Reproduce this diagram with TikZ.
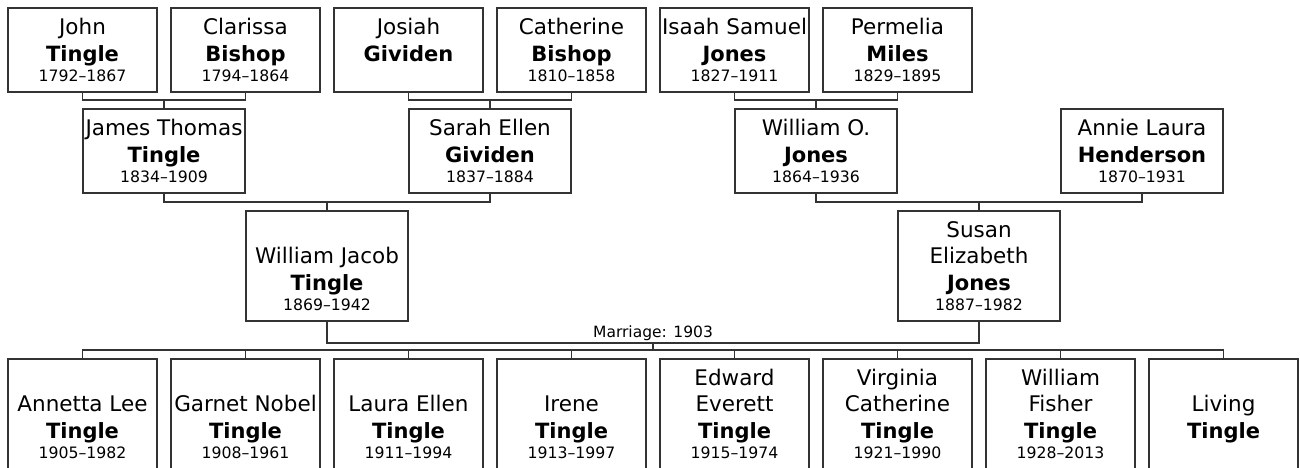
\documentclass[tikz,border=0pt]{standalone}
\usepackage{fontspec}
\setmainfont{DejaVu Sans}
\usetikzlibrary{calc}
\tikzset{
  pbox/.style={draw=black!80, line width=1.7pt, fill=white, rectangle, inner sep=0pt, outer sep=0pt},
  gname/.style={anchor=base, inner sep=0pt, font=\fontsize{21.5}{25}\selectfont},
  sname/.style={anchor=base, inner sep=0pt, font=\fontsize{21}{25}\selectfont\bfseries},
  years/.style={anchor=base, inner sep=0pt, font=\fontsize{15.7}{18}\selectfont},
  marr/.style={anchor=base, inner sep=0pt, font=\fontsize{15.5}{18}\selectfont},
  link/.style={draw=black!80, line width=1.7pt},
}
% #1 id, #2 x, #3 y centre, #4 height, #5 width, #6 upper given line, #7 given line, #8 surname, #9 years
\newcommand\fperson[9]{%
  \node[pbox, minimum width=#5pt, minimum height=#4pt] (#1) at (#2,#3) {};
  \node[gname] (#1-g) at ($(#1.south)+(0,-57.5)$) {#7};
  \def\tmpa{#6}\ifx\tmpa\empty\else\node[gname] (#1-g0) at ($(#1.south)+(0,-83.7)$) {#6};\fi
  \node[sname] (#1-s) at ($(#1.south)+(0,-31)$) {#8};
  \def\tmpb{#9}\ifx\tmpb\empty\else\node[years] (#1-y) at ($(#1.south)+(0,-11)$) {#9};\fi
}
\begin{document}
\begin{tikzpicture}[x=1pt, y=-1pt]
\path[use as bounding box, fill=white] (0,0) rectangle (1300,468);
% generation 1
\fperson{john}{82.5}{50}{84.5}{149.5}{}{John}{Tingle}{1792–1867}
\fperson{clarissa}{245.5}{50}{84.5}{149.5}{}{Clarissa}{Bishop}{1794–1864}
\fperson{josiah}{408.5}{50}{84.5}{149.5}{}{Josiah}{Gividen}{}
\fperson{catherine}{571.5}{50}{84.5}{149.5}{}{Catherine}{Bishop}{1810–1858}
\fperson{isaah}{734.5}{50}{84.5}{149.5}{}{Isaah Samuel}{Jones}{1827–1911}
\fperson{permelia}{897.5}{50}{84.5}{149.5}{}{Permelia}{Miles}{1829–1895}
% generation 2
\fperson{james}{164}{151}{84.5}{161.5}{}{James Thomas}{Tingle}{1834–1909}
\fperson{sarah}{490}{151}{84.5}{161.5}{}{Sarah Ellen}{Gividen}{1837–1884}
\fperson{wo}{816}{151}{84.5}{161.5}{}{William O.}{Jones}{1864–1936}
\fperson{annie}{1142}{151}{84.5}{161.5}{}{Annie Laura}{Henderson}{1870–1931}
% generation 3
\fperson{wjt}{327}{266}{110.5}{161.5}{}{William Jacob}{Tingle}{1869–1942}
\fperson{susan}{979}{266}{110.5}{161.5}{Susan}{Elizabeth}{Jones}{1887–1982}
% children
\fperson{c1}{82.5}{414}{110.5}{149.5}{}{Annetta Lee}{Tingle}{1905–1982}
\fperson{c2}{245.5}{414}{110.5}{149.5}{}{Garnet Nobel}{Tingle}{1908–1961}
\fperson{c3}{408.5}{414}{110.5}{149.5}{}{Laura Ellen}{Tingle}{1911–1994}
\fperson{c4}{571.5}{414}{110.5}{149.5}{}{Irene}{Tingle}{1913–1997}
\fperson{c5}{734.5}{414}{110.5}{149.5}{Edward}{Everett}{Tingle}{1915–1974}
\fperson{c6}{897.5}{414}{110.5}{149.5}{Virginia}{Catherine}{Tingle}{1921–1990}
\fperson{c7}{1060.5}{414}{110.5}{149.5}{William}{Fisher}{Tingle}{1928–2013}
\fperson{c8}{1223.5}{414}{110.5}{149.5}{}{Living}{Tingle}{}
% couple connectors, generation 1 -> 2
\draw[link] (john.south) -- ++(0,7.5) coordinate (k1) -| (clarissa.south);
\draw[link] (k1 -| james.north) -- (james.north);
\draw[link] (josiah.south) -- ++(0,7.5) coordinate (k2) -| (catherine.south);
\draw[link] (k2 -| sarah.north) -- (sarah.north);
\draw[link] (isaah.south) -- ++(0,7.5) coordinate (k3) -| (permelia.south);
\draw[link] (k3 -| wo.north) -- (wo.north);
% generation 2 -> 3
\draw[link] (james.south) -- ++(0,8.5) coordinate (k4) -| (sarah.south);
\draw[link] (k4 -| wjt.north) -- (wjt.north);
\draw[link] (wo.south) -- ++(0,8.5) coordinate (k5) -| (annie.south);
\draw[link] (k5 -| susan.north) -- (susan.north);
% marriage
\draw[link] (wjt.south) -- ++(0,21.5) coordinate (m1) -| (susan.south);
\coordinate (mid) at ($(m1)!0.5!(m1 -| susan.south)$);
\node[marr] (mtext) at ($(mid)+(0,-5.5)$) {Marriage: 1903};
% children bar
\draw[link] (c1.north) -- ++(0,-8.5) coordinate (b1) -| (c8.north);
\foreach \c in {c2,c3,c4,c5,c6,c7} {\draw[link] (\c.north) -- ++(0,-8.5);}
\draw[link] (mid) -- (mid |- b1);
\end{tikzpicture}
\end{document}
